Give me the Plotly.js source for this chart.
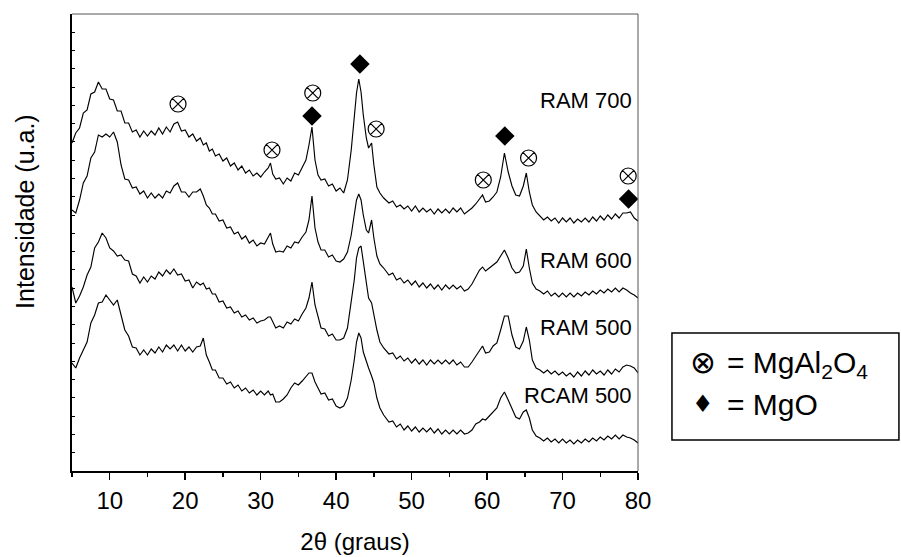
<!DOCTYPE html>
<html>
<head>
<meta charset="utf-8">
<script src="https://cdn.plot.ly/plotly-3.0.1.min.js"></script>
<style>html,body{margin:0;padding:0;background:#fff;}#chart{width:901px;height:557px;}</style>
</head>
<body>
<div id="chart"></div>
<script>
// 2θ sampling positions (degrees)
const twoTheta = [
 5,5.5,6,6.5,7,7.5,8,8.5,9,9.5,10,10.5,11,11.5,12,12.5,13,13.5,14,14.5,15,15.5,16,16.5,17,17.5,18,18.5,19,19.5,20,20.5,21,21.5,22,
 22.4,22.8,23.2,23.6,
 24,24.5,25,25.5,26,26.5,27,27.5,28,28.5,29,29.5,30,30.5,31,
 31.3,31.6,
 32,32.5,33,33.5,34,34.5,35,35.5,36,
 36.4,36.8,37.2,37.6,
 38,38.5,39,39.5,40,40.5,41,41.5,42,
 42.4,42.7,43,43.3,43.6,44,44.3,44.7,45,45.4,45.8,46.3,
 47,47.5,48,48.5,49,49.5,50,50.5,51,51.5,52,52.5,53,53.5,54,54.5,55,55.5,56,56.5,57,57.5,58,58.5,59,
 59.4,59.8,60.3,60.8,61.3,61.8,62.3,62.8,63.3,63.8,64.3,64.8,65.2,65.6,66,
 66.5,67,67.5,68,68.5,69,69.5,70,70.5,71,71.5,72,72.5,73,73.5,74,74.5,75,75.5,76,76.5,77,77.5,78,78.5,79,79.5,80
];

// Intensities (arbitrary units, curves already offset as in the figure)
const ram700 = [
 328,338,343,358,361,377,379,389,382,382,372,371,360,360,348,348,339,341,334,340,335,340,336,343,337,344,339,347,349,340,341,334,337,330,333,
 326,328,320,322,
 315,317,310,313,305,308,301,305,298,301,295,298,294,299,303,
 308,297,
 292,293,287,293,290,298,296,304,311,
 326,344,311,296,
 291,292,285,287,280,283,278,291,321,
 354,378,392,379,356,333,323,328,306,284,278,273,
 268,270,264,266,262,265,260,265,259,263,259,262,257,262,258,262,258,263,259,263,257,260,263,267,272,
 276,269,270,274,279,294,318,299,285,276,275,285,298,279,266,
 259,255,251,254,250,253,248,253,249,253,248,252,249,253,249,254,250,255,251,256,252,257,253,258,258,259,253,250
];
const ram600 = [
 261,258,271,288,295,313,319,336,334,337,334,339,329,306,292,291,283,284,277,280,273,278,273,277,273,280,278,285,288,279,279,274,279,279,282,
 275,266,263,257,
 257,250,251,243,244,237,239,232,235,228,231,225,228,227,233,
 238,227,
 219,220,219,225,223,229,228,234,239,
 251,275,243,229,
 221,221,214,216,210,209,212,219,236,
 257,271,277,271,256,241,238,251,233,215,207,203,
 196,198,191,193,188,191,186,190,184,188,183,187,182,186,181,186,182,186,182,185,180,182,187,194,201,
 204,200,203,206,209,215,221,213,203,198,199,205,222,203,188,
 182,180,177,180,175,178,174,178,174,178,174,178,175,179,176,180,177,181,178,182,179,183,179,183,181,178,176,173
];
const ram500 = [
 184,168,175,184,196,204,223,229,238,233,223,220,215,216,211,210,197,195,188,194,189,195,192,199,195,201,197,202,196,197,190,191,183,189,186,
 188,182,183,177,
 177,169,170,163,164,158,160,154,156,151,153,148,150,151,154,
 154,149,
 143,145,143,149,147,152,150,157,163,
 173,189,166,153,
 143,142,135,137,131,131,133,143,169,
 191,213,223,225,209,186,173,168,156,141,129,123,
 117,118,112,115,110,113,108,112,107,111,106,111,107,111,107,111,107,111,106,109,104,104,109,115,121,
 125,118,119,125,128,141,155,155,136,124,122,130,144,131,111,
 103,101,98,101,97,100,96,99,95,98,94,99,95,100,96,101,97,100,96,101,97,102,99,104,106,105,103,98
];
const rcam500 = [
 108,103,113,121,129,148,156,168,169,176,171,166,171,156,141,135,124,123,116,121,116,122,118,124,119,126,122,126,120,126,120,124,119,124,125,
 133,116,109,101,
 101,93,93,87,89,83,86,80,83,78,81,76,80,76,80,
 76,77,
 69,69,72,76,83,88,86,90,94,
 98,98,89,83,
 77,78,71,72,65,63,65,73,91,
 111,129,138,133,119,109,103,95,88,73,63,56,
 49,50,44,47,41,45,40,44,39,43,39,43,38,42,37,41,37,41,37,41,37,38,41,47,49,
 52,51,55,59,63,73,79,71,63,54,52,59,61,53,41,
 35,33,30,33,29,32,28,32,28,31,27,31,28,32,29,33,30,34,31,35,32,36,32,36,34,33,31,28
];

const seriesNames = ["RAM 700", "RAM 600", "RAM 500", "RCAM 500"];
const seriesLabelY = [371, 211, 144, 76];

// Phase identification marks
const spinelX = [19.05, 31.5, 36.9, 45.3, 59.5, 65.5, 78.7];
const spinelY = [367, 321, 378, 342, 291, 313, 295];
const mgoX = [43.15, 36.8, 62.35, 78.75];
const mgoY = [407, 355, 335, 272];

const xTickVals = [10, 20, 30, 40, 50, 60, 70, 80];

const FONT = "Liberation Sans, Arial, Helvetica, sans-serif";
const lineStyle = {color: "#000", width: 1.15};

const traces = [ram700, ram600, ram500, rcam500].map((ys, i) => ({
  type: "scatter", mode: "lines", x: twoTheta, y: ys, name: seriesNames[i],
  line: lineStyle, hoverinfo: "skip"
}));
traces.push({
  type: "scatter", mode: "markers", x: spinelX, y: spinelY, name: "MgAl2O4", cliponaxis: false,
  marker: {symbol: "circle-x-open", size: 16, color: "#000", line: {width: 1.2, color: "#000"}}
});
traces.push({
  type: "scatter", mode: "markers", x: mgoX, y: mgoY, name: "MgO", cliponaxis: false,
  marker: {symbol: "diamond", size: 15, color: "#000", line: {width: 0}}
});

const annotations = seriesNames.map((t, i) => ({
  x: 79.47, y: seriesLabelY[i], xref: "x", yref: "y", text: t, showarrow: false,
  xanchor: "right", yanchor: "middle", font: {family: FONT, size: 22, color: "#000"}
}));
annotations.push(
  {xref: "paper", yref: "paper", x: -0.083, y: 0.567, text: "Intensidade (u.a.)", textangle: -90, showarrow: false,
   xanchor: "center", yanchor: "middle", font: {family: FONT, size: 25, color: "#000"}},
  {xref: "paper", yref: "paper", x: 1.1148, y: 0.238, text: "⊗", showarrow: false, xanchor: "center", yanchor: "middle",
   font: {family: "DejaVu Sans", size: 31, color: "#000"}},
  {xref: "paper", yref: "paper", x: 1.1148, y: 0.146, text: "♦", showarrow: false, xanchor: "center", yanchor: "middle",
   font: {family: "DejaVu Sans", size: 24, color: "#000"}},
  {xref: "paper", yref: "paper", x: 1.1537, y: 0.232, text: "= MgAl<sub>2</sub>O<sub>4</sub>", showarrow: false, xanchor: "left", yanchor: "middle",
   font: {family: FONT, size: 30, color: "#000"}},
  {xref: "paper", yref: "paper", x: 1.1537, y: 0.146, text: "= MgO", showarrow: false, xanchor: "left", yanchor: "middle",
   font: {family: FONT, size: 30, color: "#000"}}
);

const layout = {
  width: 901, height: 557,
  margin: {l: 72, r: 263, t: 14, b: 86, pad: 0},
  paper_bgcolor: "#fff", plot_bgcolor: "#fff",
  showlegend: false,
  font: {family: FONT, color: "#000"},
  xaxis: {
    range: [5, 80], tickmode: "array", tickvals: xTickVals, ticktext: xTickVals.map(String),
    ticks: "outside", ticklen: 7, tickwidth: 1.5, tickcolor: "#000",
    minor: {ticks: "outside", ticklen: 4, tickwidth: 1.5, tickcolor: "#000", tickmode: "array", tickvals: [5,15,25,35,45,55,65,75]},
    showline: true, linecolor: "#000", linewidth: 2, mirror: false,
    showgrid: false, zeroline: false,
    tickfont: {family: FONT, size: 24, color: "#000"},
    title: {text: "2θ (graus)", font: {family: FONT, size: 24, color: "#000"}, standoff: 20}
  },
  yaxis: {
    range: [0, 457], tick0: 0, dtick: 18.28, showticklabels: false,
    ticks: "inside", ticklen: 3, tickwidth: 1, tickcolor: "#000",
    showline: true, linecolor: "#000", linewidth: 2, mirror: false,
    showgrid: false, zeroline: false
  },
  shapes: [
    {type: "line", xref: "paper", yref: "paper", x0: 0, x1: 1, y0: 1, y1: 1, line: {color: "#555", width: 1}},
    {type: "line", xref: "paper", yref: "paper", x0: 1, x1: 1, y0: 0, y1: 1, line: {color: "#555", width: 1}},
    {type: "rect", xref: "paper", yref: "paper", x0: 1.060, x1: 1.461, y0: 0.068, y1: 0.302, line: {color: "#000", width: 1.5}, fillcolor: "rgba(0,0,0,0)"}
  ],
  annotations: annotations
};

Plotly.newPlot("chart", traces, layout, {staticPlot: true, displayModeBar: false});
</script>
</body>
</html>
